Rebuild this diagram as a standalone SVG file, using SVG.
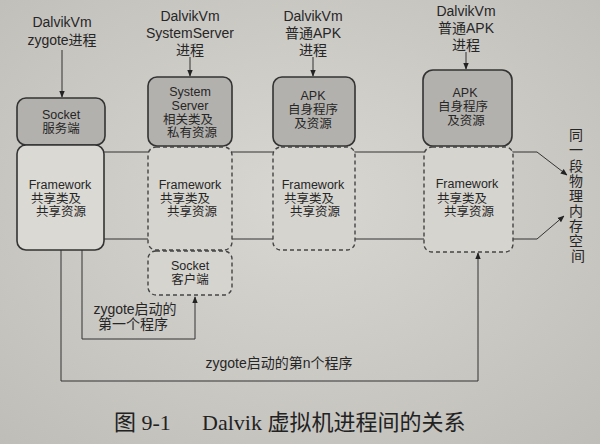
<svg xmlns="http://www.w3.org/2000/svg" width="600" height="444" viewBox="0 0 600 444">
<defs>
<radialGradient id="paper" cx="50%" cy="45%" r="75%">
<stop offset="0" stop-color="#d9d7d2"/>
<stop offset="1" stop-color="#bfbdb8"/>
</radialGradient>
<marker id="ah" viewBox="0 0 10 10" refX="9" refY="5" markerWidth="7" markerHeight="7" orient="auto" markerUnits="userSpaceOnUse">
<path d="M0,1 L10,5 L0,9 z" fill="#222"/>
</marker>
<style>
.t{font-family:"Liberation Sans","Noto Sans CJK SC",sans-serif;fill:#262626;text-anchor:middle}
.h{font-size:14px}
.s{font-size:12.5px}
.grey{fill:#b3b1ad;stroke:#333;stroke-width:1.6}
.light{fill:#dbd9d4;stroke:#333;stroke-width:1.6}
.dash{fill:#d6d4cf;stroke:#444;stroke-width:1.4;stroke-dasharray:4 3}
.ln{fill:none;stroke:#333;stroke-width:1}
.cap{font-family:"Liberation Serif","Noto Sans CJK SC",serif;font-size:22px;fill:#222}
</style>
</defs>
<rect width="600" height="444" fill="url(#paper)"/>

<g id="connectors">
<line class="ln" x1="62" y1="50" x2="62" y2="97" marker-end="url(#ah)"/>
<line class="ln" x1="190" y1="57" x2="190" y2="76" marker-end="url(#ah)"/>
<line class="ln" x1="313" y1="57" x2="313" y2="76" marker-end="url(#ah)"/>
<line class="ln" x1="466" y1="52" x2="466" y2="69" marker-end="url(#ah)"/>
<polyline class="ln" points="104,152 537,152 567,175" marker-end="url(#ah)"/>
<polyline class="ln" points="104,239 537,239 564,216" marker-end="url(#ah)"/>
<polyline class="ln" points="82,250 82,339 195,339 195,297" marker-end="url(#ah)"/>
<polyline class="ln" points="61,250 61,381 478,381 478,253" marker-end="url(#ah)"/>
</g>

<g id="zygote-label">
<text class="t h" x="62" y="27">DalvikVm</text>
<text class="t h" x="62" y="45">zygote进程</text>
</g>
<g id="systemserver-label">
<text class="t h" x="190" y="21">DalvikVm</text>
<text class="t h" x="190" y="38">SystemServer</text>
<text class="t h" x="190" y="55">进程</text>
</g>
<g id="apk1-label">
<text class="t h" x="313" y="21">DalvikVm</text>
<text class="t h" x="313" y="38">普通APK</text>
<text class="t h" x="313" y="55">进程</text>
</g>
<g id="apk2-label">
<text class="t h" x="466" y="16">DalvikVm</text>
<text class="t h" x="466" y="33">普通APK</text>
<text class="t h" x="466" y="50">进程</text>
</g>

<g id="zygote-socket">
<rect class="grey" x="17" y="98" width="88" height="47" rx="9"/>
<text class="t s" x="61" y="119">Socket</text>
<text class="t s" x="61" y="133">服务端</text>
</g>
<g id="zygote-framework">
<rect class="light" x="17" y="145" width="87" height="105" rx="9"/>
<text class="t s" x="60" y="189">Framework</text>
<text class="t s" x="56" y="203">共享类及</text>
<text class="t s" x="61" y="216">共享资源</text>
</g>

<g id="systemserver-box">
<rect class="grey" x="148" y="77" width="84" height="69" rx="9"/>
<text class="t s" x="190" y="96">System</text>
<text class="t s" x="190" y="110">Server</text>
<text class="t s" x="188" y="124">相关类及</text>
<text class="t s" x="192" y="137">私有资源</text>
</g>
<g id="systemserver-framework">
<rect class="dash" x="148" y="147" width="84" height="103" rx="8"/>
<text class="t s" x="190" y="189">Framework</text>
<text class="t s" x="185" y="203">共享类及</text>
<text class="t s" x="192" y="216">共享资源</text>
</g>
<g id="systemserver-socket">
<rect class="dash" x="148" y="251" width="84" height="44" rx="8"/>
<text class="t s" x="190" y="270">Socket</text>
<text class="t s" x="190" y="284">客户端</text>
</g>

<g id="apk1-box">
<rect class="grey" x="273" y="77" width="82" height="69" rx="9"/>
<text class="t s" x="313" y="100">APK</text>
<text class="t s" x="313" y="114">自身程序</text>
<text class="t s" x="313" y="128">及资源</text>
</g>
<g id="apk1-framework">
<rect class="dash" x="273" y="147" width="82" height="103" rx="8"/>
<text class="t s" x="313" y="189">Framework</text>
<text class="t s" x="309" y="203">共享类及</text>
<text class="t s" x="315" y="216">共享资源</text>
</g>

<g id="apk2-box">
<rect class="grey" x="423" y="70" width="89" height="76" rx="10"/>
<text class="t s" x="465" y="97">APK</text>
<text class="t s" x="463" y="111">自身程序</text>
<text class="t s" x="466" y="125">及资源</text>
</g>
<g id="apk2-framework">
<rect class="dash" x="424" y="147" width="89" height="105" rx="8"/>
<text class="t s" x="467" y="188">Framework</text>
<text class="t s" x="462" y="203">共享类及</text>
<text class="t s" x="469" y="216">共享资源</text>
</g>

<g id="memory-label">
<text class="t h">
<tspan x="578" y="140">同</tspan>
<tspan x="578" y="155">一</tspan>
<tspan x="578" y="171">段</tspan>
<tspan x="578" y="186">物</tspan>
<tspan x="578" y="201">理</tspan>
<tspan x="578" y="216">内</tspan>
<tspan x="578" y="231">存</tspan>
<tspan x="578" y="246">空</tspan>
<tspan x="578" y="261">间</tspan>
</text>
</g>

<g id="first-program-label">
<text class="t h" x="135" y="314">zygote启动的</text>
<text class="t h" x="133" y="329">第一个程序</text>
</g>
<g id="nth-program-label">
<text class="t h" x="279" y="368">zygote启动的第n个程序</text>
</g>

<g id="caption">
<text class="cap" x="114" y="430">图 9-1</text>
<text class="cap" x="202" y="430">Dalvik 虚拟机进程间的关系</text>
</g>
</svg>
